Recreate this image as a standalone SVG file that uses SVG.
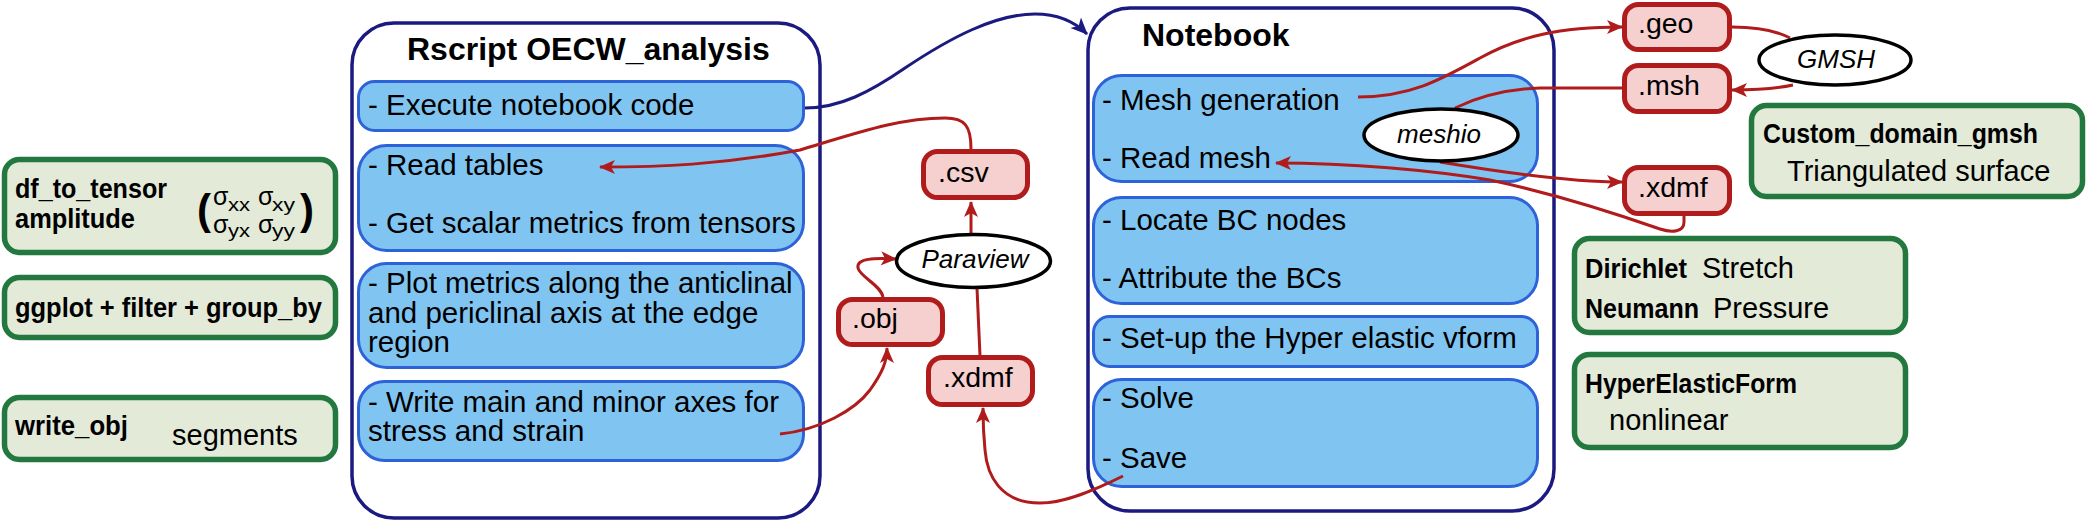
<svg xmlns="http://www.w3.org/2000/svg" width="2087" height="529" viewBox="0 0 2087 529">
<defs>
<style>
text{font-family:"Liberation Sans",Arial,sans-serif;fill:#000}
.outer{fill:#fff;stroke:#1a1a80;stroke-width:3.5}
.blue{fill:#80c5f2;stroke:#2e62d9;stroke-width:3}
.red{fill:#f6cfcf;stroke:#b01c1c;stroke-width:5}
.green{fill:#e3ead8;stroke:#22783e;stroke-width:5.5}
.ell{fill:#fff;stroke:#000;stroke-width:3.5}
.title{font-size:32px;font-weight:bold}
.bt{font-size:29.5px}
.rt{font-size:28.5px}
.gb{font-size:28px;font-weight:bold}
.gr{font-size:29px}
.it{font-size:26px;font-style:italic}
.sg{font-size:25px}
.sub{font-size:19px}
.par{font-size:42px;font-weight:bold}
.cr{fill:none;stroke:#b01c1c;stroke-width:3}
.cn{fill:none;stroke:#1a1a80;stroke-width:3}
</style>
<marker id="ar" viewBox="0 0 16 16" refX="15" refY="8" markerWidth="16" markerHeight="16" markerUnits="userSpaceOnUse" orient="auto"><path d="M0,1 L16,8 L0,15 L4,8 z" fill="#b01c1c"/></marker>
<marker id="an" viewBox="0 0 16 16" refX="15" refY="8" markerWidth="17" markerHeight="17" markerUnits="userSpaceOnUse" orient="auto"><path d="M0,1 L16,8 L0,15 L4,8 z" fill="#1a1a80"/></marker>
</defs>

<g id="left-green">
<g id="df_to_tensor">
<rect class="green" x="4.5" y="159.5" width="331" height="93" rx="15"/>
<text class="gb" x="15" y="198" textLength="152" lengthAdjust="spacingAndGlyphs">df_to_tensor</text>
<text class="gb" x="15" y="228" textLength="120" lengthAdjust="spacingAndGlyphs">amplitude</text>
<text class="par" x="197" y="224">(</text>
<text class="sg" x="213" y="205">σ</text>
<text class="sub" x="228" y="211" textLength="22" lengthAdjust="spacingAndGlyphs">xx</text>
<text class="sg" x="258" y="205">σ</text>
<text class="sub" x="272" y="211" textLength="23" lengthAdjust="spacingAndGlyphs">xy</text>
<text class="sg" x="213" y="233">σ</text>
<text class="sub" x="228" y="237" textLength="22" lengthAdjust="spacingAndGlyphs">yx</text>
<text class="sg" x="258" y="233">σ</text>
<text class="sub" x="272" y="237" textLength="23" lengthAdjust="spacingAndGlyphs">yy</text>
<text class="par" x="300" y="224">)</text>
</g>
<g id="ggplot">
<rect class="green" x="4.5" y="277.5" width="331" height="60" rx="15"/>
<text class="gb" x="15" y="317" textLength="307" lengthAdjust="spacingAndGlyphs">ggplot + filter + group_by</text>
</g>
<g id="write_obj">
<rect class="green" x="4.5" y="397.5" width="331" height="62" rx="15"/>
<text class="gb" x="15" y="435" textLength="113" lengthAdjust="spacingAndGlyphs">write_obj</text>
<text class="gr" x="172" y="445">segments</text>
</g>
</g>

<g id="rscript">
<rect class="outer" x="352" y="23" width="468" height="495" rx="42"/>
<text class="title" x="407" y="60">Rscript OECW_analysis</text>
<g id="r-execute">
<rect class="blue" x="358.5" y="81.5" width="445" height="49" rx="16"/>
<text class="bt" x="368" y="115">- Execute notebook code</text>
</g>
<g id="r-read">
<rect class="blue" x="358.5" y="145.5" width="445" height="105" rx="28"/>
<text class="bt" x="368" y="175">- Read tables</text>
<text class="bt" x="368" y="233">- Get scalar metrics from tensors</text>
</g>
<g id="r-plot">
<rect class="blue" x="358.5" y="263.5" width="445" height="104" rx="28"/>
<text class="bt" x="368" y="293">- Plot metrics along the anticlinal</text>
<text class="bt" x="368" y="323">and periclinal axis at the edge</text>
<text class="bt" x="368" y="352">region</text>
</g>
<g id="r-write">
<rect class="blue" x="358.5" y="381.5" width="445" height="79" rx="26"/>
<text class="bt" x="368" y="412">- Write main and minor axes for</text>
<text class="bt" x="368" y="441">stress and strain</text>
</g>
</g>

<g id="notebook">
<rect class="outer" x="1088" y="8" width="466" height="503" rx="42"/>
<text class="title" x="1142" y="46">Notebook</text>
<g id="n-mesh">
<rect class="blue" x="1093.5" y="75.5" width="444" height="106" rx="28"/>
<text class="bt" x="1102" y="110">- Mesh generation</text>
<text class="bt" x="1102" y="168">- Read mesh</text>
</g>
<g id="n-bc">
<rect class="blue" x="1093.5" y="197.5" width="444" height="106" rx="28"/>
<text class="bt" x="1102" y="230">- Locate BC nodes</text>
<text class="bt" x="1102" y="288">- Attribute the BCs</text>
</g>
<g id="n-setup">
<rect class="blue" x="1093.5" y="316.5" width="444" height="50" rx="16"/>
<text class="bt" x="1102" y="348">- Set-up the Hyper elastic vform</text>
</g>
<g id="n-solve">
<rect class="blue" x="1093.5" y="379.5" width="444" height="107" rx="28"/>
<text class="bt" x="1102" y="408">- Solve</text>
<text class="bt" x="1102" y="468">- Save</text>
</g>
</g>

<g id="files">
<g id="f-csv"><rect class="red" x="923.5" y="151.5" width="104" height="46" rx="14"/><text class="rt" x="938" y="182">.csv</text></g>
<g id="f-obj"><rect class="red" x="838.5" y="299.5" width="104" height="45" rx="14"/><text class="rt" x="852" y="328">.obj</text></g>
<g id="f-xdmf-l"><rect class="red" x="928.5" y="357.5" width="104" height="47" rx="14"/><text class="rt" x="943" y="387">.xdmf</text></g>
<g id="f-geo"><rect class="red" x="1624.5" y="4.5" width="105" height="45" rx="14"/><text class="rt" x="1638" y="33">.geo</text></g>
<g id="f-msh"><rect class="red" x="1624.5" y="65.5" width="105" height="46" rx="14"/><text class="rt" x="1638" y="95">.msh</text></g>
<g id="f-xdmf-r"><rect class="red" x="1624.5" y="167.5" width="105" height="46" rx="14"/><text class="rt" x="1638" y="197">.xdmf</text></g>
</g>

<g id="right-green">
<g id="custom_domain">
<rect class="green" x="1751.5" y="105.5" width="331" height="91" rx="15"/>
<text class="gb" x="1763" y="143" textLength="275" lengthAdjust="spacingAndGlyphs">Custom_domain_gmsh</text>
<text class="gr" x="1787" y="181">Triangulated surface</text>
</g>
<g id="bcs">
<rect class="green" x="1574.5" y="238.5" width="331" height="94" rx="15"/>
<text class="gb" x="1585" y="278" textLength="102" lengthAdjust="spacingAndGlyphs">Dirichlet</text>
<text class="gr" x="1702" y="278">Stretch</text>
<text class="gb" x="1585" y="318" textLength="114" lengthAdjust="spacingAndGlyphs">Neumann</text>
<text class="gr" x="1713" y="318">Pressure</text>
</g>
<g id="hyperelastic">
<rect class="green" x="1574.5" y="354.5" width="331" height="93" rx="15"/>
<text class="gb" x="1585" y="393" textLength="212" lengthAdjust="spacingAndGlyphs">HyperElasticForm</text>
<text class="gr" x="1609" y="430">nonlinear</text>
</g>
</g>

<g id="connectors">
<path class="cn" marker-end="url(#an)" d="M805,108 C840,108 870,92 905,68 C950,38 995,14 1035,14 C1058,14 1075,22 1087,34"/>
<path class="cr" marker-end="url(#ar)" d="M971,149 C971,126 965,118 945,118 C900,118 860,132 800,150 C720,165 660,167 600,167"/>
<path class="cr" marker-end="url(#ar)" d="M971,234 L971,202"/>
<path class="cr" marker-end="url(#ar)" d="M883,297 C881,285 860,277 858,268 C856,258 875,258 896,259"/>
<path class="cr" d="M980,356 L977,288"/>
<path class="cr" marker-end="url(#ar)" d="M1123,476 C1095,490 1065,503 1040,503 C1000,503 987,475 985,450 C983,430 983,420 983,408"/>
<path class="cr" marker-end="url(#ar)" d="M780,434 C820,430 855,410 870,390 C882,373 887,362 887,348"/>
<path class="cr" marker-end="url(#ar)" d="M1358,97 C1410,97 1440,80 1480,58 C1520,36 1560,27 1622,27"/>
<path class="cr" d="M1622,88 L1540,88 C1510,89 1480,96 1455,108"/>
<path class="cr" marker-end="url(#ar)" d="M1440,162 C1500,172 1570,182 1622,182"/>
<path class="cr" marker-end="url(#ar)" d="M1684,216 L1684,222 C1684,232 1672,233 1660,229 C1620,215 1560,195 1490,180 C1430,170 1350,163 1276,163"/>
<path class="cr" d="M1732,27 C1755,27 1775,30 1790,38"/>
<path class="cr" marker-end="url(#ar)" d="M1793,85 C1775,89 1755,90 1732,90"/>
</g>

<g id="tools">
<g id="paraview"><ellipse class="ell" cx="973.5" cy="261" rx="77" ry="26.5"/><text class="it" x="975" y="268" text-anchor="middle">Paraview</text></g>
<g id="meshio"><ellipse class="ell" cx="1441" cy="135" rx="77" ry="26"/><text class="it" x="1439" y="143" text-anchor="middle">meshio</text></g>
<g id="gmsh"><ellipse class="ell" cx="1835" cy="60" rx="76" ry="25"/><text class="it" x="1836" y="68" text-anchor="middle">GMSH</text></g>
</g>
</svg>
